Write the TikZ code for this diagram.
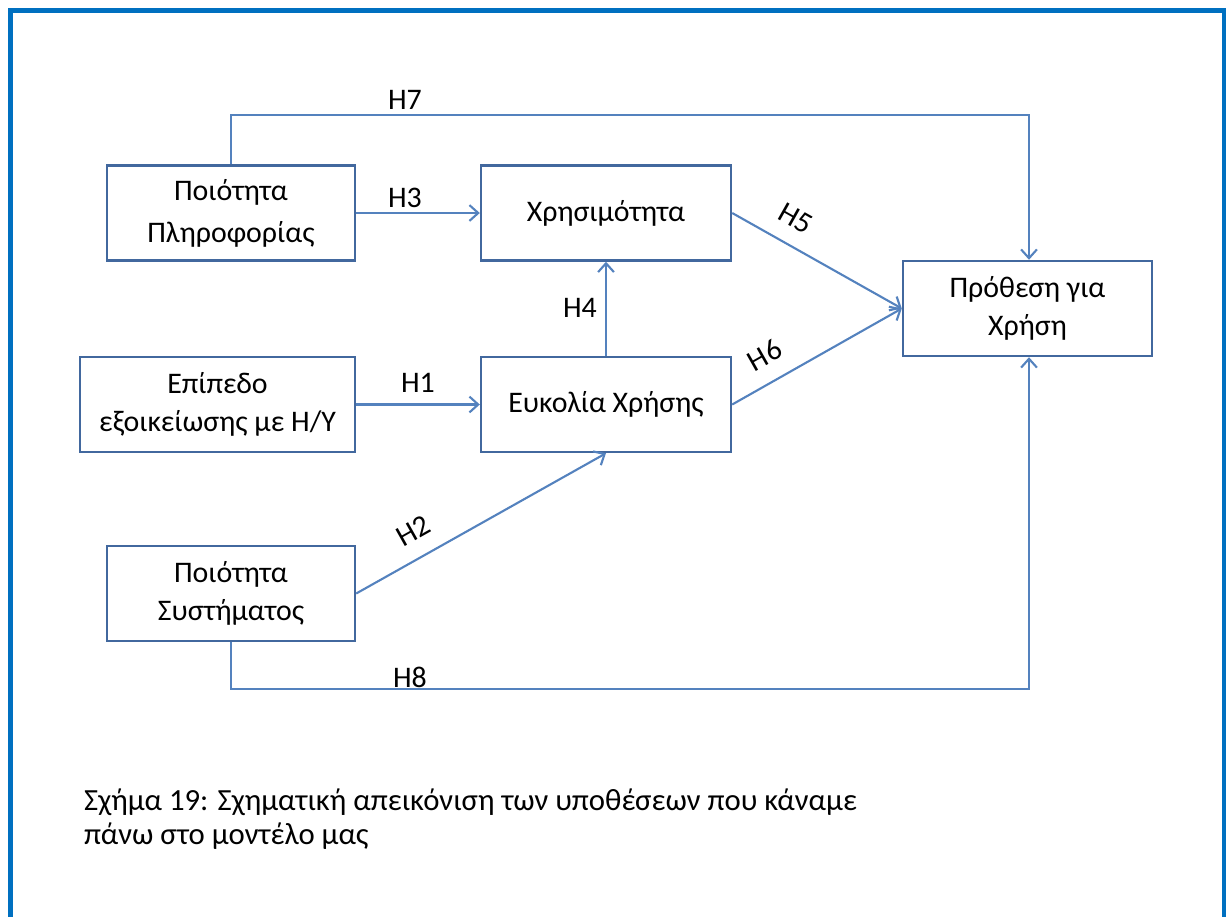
\documentclass[tikz,border=0pt]{standalone}
\usepackage{fontspec}
\setmainfont{Carlito}
\usepackage{tikz}
\usetikzlibrary{positioning, arrows.meta}

\definecolor{boxblue}{RGB}{66,104,158}
\definecolor{arrblue}{RGB}{84,130,190}
\definecolor{frameblue}{RGB}{0,112,192}

\begin{document}
\begin{tikzpicture}
            [x=0.02cm, y=-0.02cm,
              every node/.style={font=\fontsize{17}{22}\selectfont},
              var/.style={rectangle, draw=boxblue, line width=1.4pt,
                align=center, inner sep=0pt, minimum height=1.9cm},
              link/.style={draw=arrblue, line width=1.2pt,
                arrows={-Straight Barb[length=5pt, width=9pt]}},
              hyp/.style={inner sep=2pt, above=7pt, sloped}]
            \useasboundingbox (0, 0) rectangle (1226, 916);
            \draw[frameblue, line width=2.3pt] (10.5, 930) |- (1224, 10.5) -- (1224, 930);
            \node[var, minimum width=4.96cm] (pi) at (231, 213) {Ποιότητα\\[2pt]Πληροφορίας};
            \node[var, minimum width=5cm] (xr) at (606, 213) {Χρησιμότητα};
            \node[var, minimum width=4.98cm] (pr) at (1027.5, 308.5) {Πρόθεση για\\Χρήση};
            \node[var, minimum width=5.5cm] (ep) at (217.5, 404.5) {Επίπεδο\\εξοικείωσης με H/Y};
            \node[var, minimum width=5cm] (ev) at (606, 404.5) {Ευκολία Χρήσης};
            \node[var, minimum width=4.96cm] (ps) at (231, 593.5) {Ποιότητα\\Συστήματος};
            \coordinate (t7) at (1029, 115);
            \coordinate (b8) at (1029, 689);
            \node (h7) at (405, 100) {H7};
            \node (h3) at (405, 198) {H3};
            \node (h4) at (580, 308) {H4};
            \node (h1) at (418, 383) {H1};
            \node (h8) at (410, 677) {H8};
            \draw[link] (pi.north) |- (t7) -- (t7 |- pr.north);
            \draw[link] (pi.east) -- (xr.west);
            \draw[link] (xr.east) -- node[hyp, pos=0.3] (h5) {H5} (pr.west);
            \draw[link] (ev.east) -- node[hyp, pos=0.27] (h6) {H6} (pr.west);
            \draw[link] (ev.north) -- (xr.south);
            \draw[link] (ep.east) -- (ev.west);
            \draw[link] (ps.east) -- node[hyp, pos=0.28] (h2) {H2} (ev.south);
            \draw[link] (ps.south) |- (b8) -- (b8 |- pr.south);
            \node[anchor=north west, align=left, font=\fontsize{17.5}{19}\selectfont] (cap)
              at (78, 783) {Σχήμα 19: Σχηματική απεικόνιση των υποθέσεων που κάναμε\\πάνω στο μοντέλο μας};
        \end{tikzpicture}
\end{document}
